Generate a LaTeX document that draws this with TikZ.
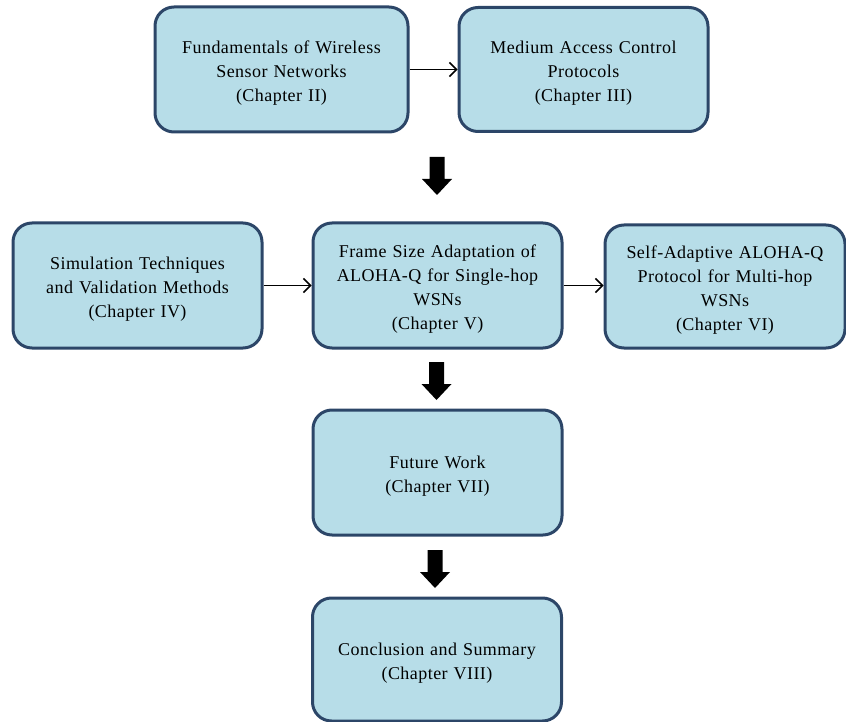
\documentclass[tikz,border=0pt]{standalone}
\usepackage{fontspec}
\setmainfont{Liberation Serif}[LetterSpace=2.5, WordSpace=1.2]
\usetikzlibrary{arrows.meta}

\definecolor{boxfill}{RGB}{183,221,232}
\definecolor{boxline}{RGB}{44,70,104}

% extra room above the first line, so the text block sits a little low
\newcommand\topgap{\rule{0pt}{19.5pt}}

\tikzset{
  chapter/.style={draw=boxline, fill=boxfill, line width=3pt,
    rounded corners=19pt, align=center, inner sep=2pt,
    font=\fontsize{18}{24}\selectfont},
  link/.style={draw=black, line width=1.5pt,
    -{Straight Barb[length=7pt,width=14pt,line width=1.5pt]}},
  blockarrow/.pic={
    \fill[black] (-7.5,0) -- (7.5,0) -- (7.5,22) -- (15,22) -- (0,38)
      -- (-15,22) -- (-7.5,22) -- cycle;}
}

\begin{document}
\begin{tikzpicture}[x=1pt, y=-1pt]
  \useasboundingbox (0,0) rectangle (846,722);

  % top row
  \node[chapter, minimum width=253pt, minimum height=125pt] (fund) at (281.5,69.5)
    {\topgap Fundamentals of Wireless\\Sensor Networks\\(Chapter II)};
  \node[chapter, minimum width=249pt, minimum height=124pt] (mac) at (583.5,69.5)
    {\topgap Medium Access Control\\Protocols\\(Chapter III)};

  % middle row
  \node[chapter, minimum width=249pt, minimum height=125pt] (sim) at (137.5,285.5)
    {\topgap Simulation Techniques\\and Validation Methods\\(Chapter IV)};
  \node[chapter, minimum width=249pt, minimum height=125pt] (frame) at (437.5,285.5)
    {\topgap Frame Size Adaptation of\\ALOHA-Q for Single-hop\\WSNs\\(Chapter V)};
  \node[chapter, minimum width=240pt, minimum height=123pt] (self) at (725,286.5)
    {\topgap Self-Adaptive ALOHA-Q\\Protocol for Multi-hop\\WSNs\\(Chapter VI)};

  % lower column
  \node[chapter, minimum width=249pt, minimum height=125pt] (future) at (437.5,472.5)
    {\topgap Future Work\\(Chapter VII)};
  \node[chapter, minimum width=249pt, minimum height=123pt] (concl) at (437,659.5)
    {\topgap Conclusion and Summary\\(Chapter VIII)};

  % thin connectors
  \draw[link] (fund.east) -- (mac.west);
  \draw[link] (sim.east) -- (frame.west);
  \draw[link] (frame.east) -- (self.west |- frame.east);

  % block arrows between stages
  \pic at (437,157) {blockarrow};
  \pic at (436.5,362) {blockarrow};
  \pic at (435,550) {blockarrow};
\end{tikzpicture}
\end{document}
